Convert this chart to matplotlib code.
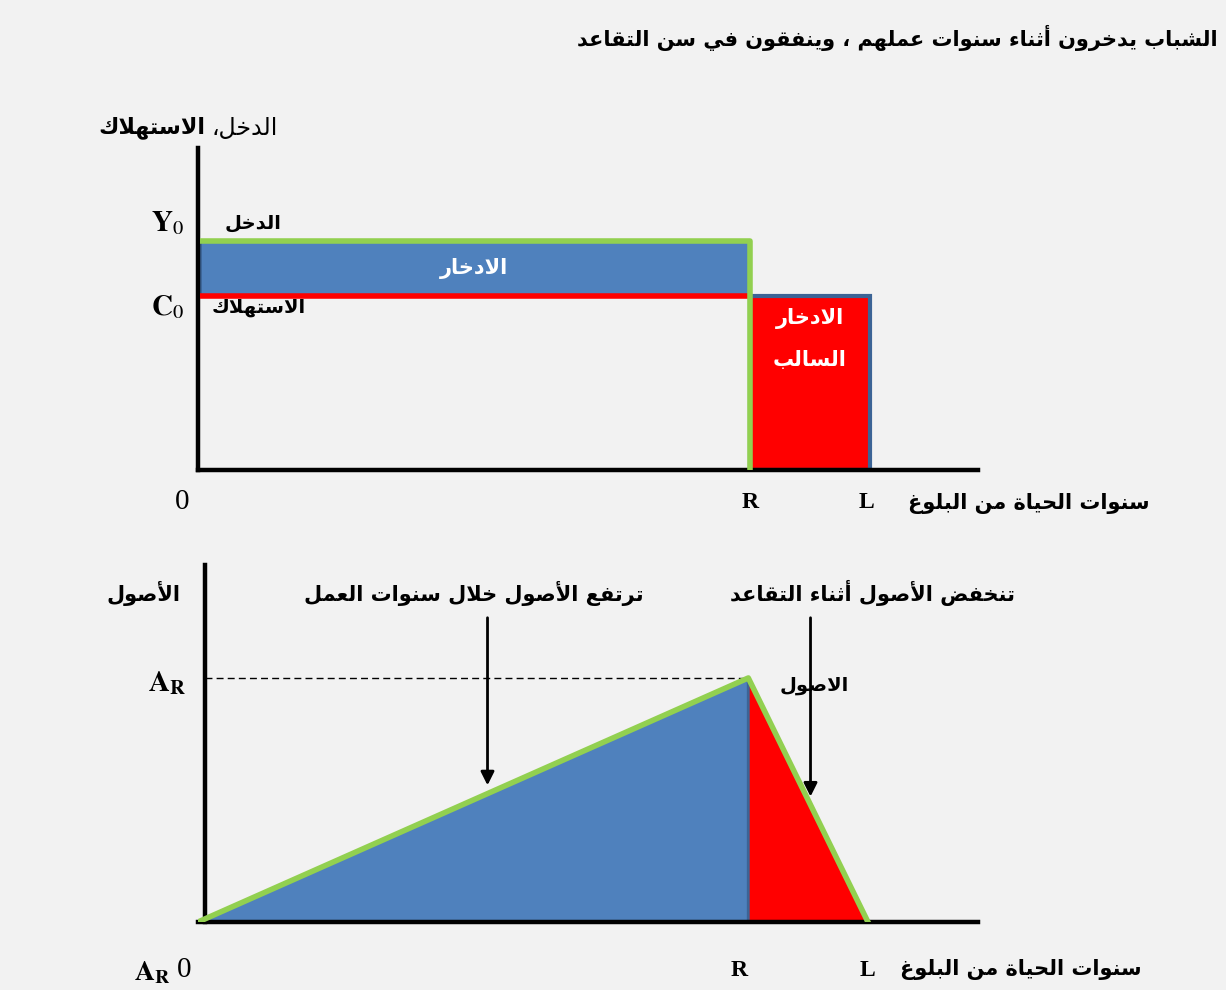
"""
دورة الحياة: الدخل والاستهلاك والأصول
"""
import numpy as np
import matplotlib
matplotlib.use('Agg')
import matplotlib.pyplot as plt
from matplotlib.patches import Rectangle, Polygon
import matplotlib.transforms as mtransforms

plt.rcParams['mathtext.fontset'] = 'stix'

# ---- data ----
R = 46          # سن التقاعد (سنوات من البلوغ)
L = 56          # نهاية الحياة
Y0 = 100        # الدخل
C0 = 76         # الاستهلاك
AR = 1104       # الأصول عند التقاعد
asset_years = [0, R, L]
asset_vals = [0, AR, 0]

title = 'الشباب يدخرون أثناء سنوات عملهم ، وينفقون في سن التقاعد'
xlabel = 'سنوات الحياة من البلوغ'

BLUE = '#4f81bd'
EDGE = '#3c6496'
GREEN = '#92d050'
RED = '#ff0000'
BG = '#f2f2f2'

# ---- تشكيل الحروف العربية (matplotlib لا يقوم بذلك) ----
dual = {'ئ': 0xFE89, 'ب': 0xFE8F, 'ت': 0xFE95, 'ث': 0xFE99, 'ج': 0xFE9D, 'ح': 0xFEA1,
        'خ': 0xFEA5, 'س': 0xFEB1, 'ش': 0xFEB5, 'ص': 0xFEB9, 'ض': 0xFEBD, 'ط': 0xFEC1,
        'ظ': 0xFEC5, 'ع': 0xFEC9, 'غ': 0xFECD, 'ف': 0xFED1, 'ق': 0xFED5, 'ك': 0xFED9,
        'ل': 0xFEDD, 'م': 0xFEE1, 'ن': 0xFEE5, 'ه': 0xFEE9, 'ي': 0xFEF1}
right = {'آ': 0xFE81, 'أ': 0xFE83, 'ؤ': 0xFE85, 'إ': 0xFE87, 'ا': 0xFE8D, 'ة': 0xFE93,
         'د': 0xFEA9, 'ذ': 0xFEAB, 'ر': 0xFEAD, 'ز': 0xFEAF, 'و': 0xFEED, 'ى': 0xFEEF}
lamalef = {'آ': 0xFEF5, 'أ': 0xFEF7, 'إ': 0xFEF9, 'ا': 0xFEFB}


def ar(text):
    units = []
    i = 0
    while i < len(text):
        c = text[i]
        if c == 'ل' and i + 1 < len(text) and text[i + 1] in lamalef:
            units.append(('LA', text[i + 1]))
            i += 2
        else:
            units.append(('C', c))
            i += 1
    out = []
    for k, (kind, c) in enumerate(units):
        prev = units[k - 1] if k > 0 else None
        nxt = units[k + 1] if k + 1 < len(units) else None
        join_prev = prev is not None and prev[0] == 'C' and prev[1] in dual
        if kind == 'LA':
            out.append(chr(lamalef[c] + (1 if join_prev else 0)))
        elif c in dual:
            join_next = nxt is not None and (nxt[0] == 'LA' or nxt[1] in dual or nxt[1] in right)
            form = 3 if (join_prev and join_next) else 2 if join_next else 1 if join_prev else 0
            out.append(chr(dual[c] + form))
        elif c in right:
            out.append(chr(right[c] + (1 if join_prev else 0)))
        elif c == 'ء':
            out.append(chr(0xFE80))
        else:
            out.append(c)
    return ''.join(reversed(out))


W, H = 1226, 990
fig = plt.figure(figsize=(W / 100, H / 100), dpi=100, facecolor=BG)


def px(x, y):
    return x / W, 1 - y / H


AFONT = dict(family='DejaVu Sans', fontweight='bold', color='black')
WFONT = dict(family='DejaVu Sans', fontweight='bold', color='white')
LFONT = dict(family='Liberation Serif', fontweight='bold', color='black')


def setup(ax):
    ax.set_facecolor('none')
    for s in ['top', 'right']:
        ax.spines[s].set_visible(False)
    for s in ['left', 'bottom']:
        ax.spines[s].set_linewidth(3.2)
        ax.spines[s].set_color('black')
    ax.set_xticks([])
    ax.set_yticks([])


# ---- اللوحة العليا: الدخل والاستهلاك ----
ax1 = fig.add_axes([198 / W, (H - 470) / H, (978 - 198) / W, (470 - 148) / H])
setup(ax1)
ax1.set_xlim(0, 65)
ax1.set_ylim(0, 140.6)

ax1.add_patch(Rectangle((0.2, C0), R - 0.2, Y0 - C0, facecolor=BLUE, edgecolor=EDGE, lw=2, zorder=2))
ax1.add_patch(Rectangle((R, 0), L - R, C0, facecolor=RED, edgecolor=EDGE, lw=3, zorder=2))
ax1.plot([0.2, R], [C0, C0], color=RED, lw=4, zorder=3, solid_capstyle='butt')
ax1.plot([0.2, R, R], [Y0, Y0, 0], color=GREEN, lw=4, zorder=4, solid_capstyle='butt')

ax1.text(R / 2, (Y0 + C0) / 2, ar('الادخار'), ha='center', va='center', fontsize=15, **WFONT)
ax1.text((R + L) / 2, 66, ar('الادخار'), ha='center', va='center', fontsize=15, **WFONT)
ax1.text((R + L) / 2, 48, ar('السالب'), ha='center', va='center', fontsize=15, **WFONT)

tr1 = mtransforms.blended_transform_factory(ax1.transAxes, ax1.transData)
ax1.text(-0.018, Y0 + 8, r'$\mathbf{Y}_{\mathrm{0}}$', ha='right', va='center', fontsize=21,
         transform=tr1, color='black')
ax1.text(-0.018, C0 - 5, r'$\mathbf{C}_{\mathrm{0}}$', ha='right', va='center', fontsize=21,
         transform=tr1, color='black')
ax1.text(0.07, Y0 + 8, ar('الدخل'), ha='center', va='center', fontsize=14, transform=tr1, **AFONT)
ax1.text(0.078, C0 - 5, ar('الاستهلاك'), ha='center', va='center', fontsize=14, transform=tr1, **AFONT)

trx1 = mtransforms.blended_transform_factory(ax1.transData, ax1.transAxes)
ax1.text(R, -0.1, 'R', ha='center', va='center', fontsize=17, transform=trx1, **LFONT)
ax1.text(L - 0.3, -0.1, 'L', ha='center', va='center', fontsize=17, transform=trx1, **LFONT)
ax1.text(-1.3, -0.1, '0', ha='center', va='center', fontsize=21, transform=trx1,
         family='Liberation Serif', color='black')

# ---- اللوحة السفلى: الأصول ----
ax2 = fig.add_axes([198 / W, (H - 922) / H, (978 - 198) / W, (922 - 565) / H])
setup(ax2)
ax2.spines['left'].set_position(('outward', -5))
ax2.set_xlim(0, 65.2)
ax2.set_ylim(0, 1615)

ax2.add_patch(Polygon([(asset_years[0], asset_vals[0]), (asset_years[1], asset_vals[1]), (R, 0)],
                      closed=True, facecolor=BLUE, edgecolor=EDGE, lw=2, zorder=2))
ax2.add_patch(Polygon([(asset_years[1], asset_vals[1]), (asset_years[2], asset_vals[2]), (R, 0)],
                      closed=True, facecolor=RED, edgecolor=EDGE, lw=2, zorder=2))
ax2.plot(asset_years, asset_vals, color=GREEN, lw=4, zorder=4)
ax2.plot([0.6, R], [AR, AR], color='black', lw=1, ls=(0, (5, 3)), zorder=1)

# أسهم
for xa in [24.2, 51.2]:
    ax2.annotate('', xy=(xa, np.interp(xa, asset_years, asset_vals) + 25),
                 xytext=(xa, 0.86), xycoords='data', textcoords=('data', 'axes fraction'),
                 arrowprops=dict(arrowstyle='-|>', color='black', lw=2, mutation_scale=20))

tr2 = mtransforms.blended_transform_factory(ax2.transAxes, ax2.transData)
ax2.text(-0.015, AR - 25, r'$\mathbf{A}_{\mathbf{R}}$', ha='right', va='center', fontsize=21,
         transform=tr2, color='black')
ax2.text(0.79, AR - 35, ar('الاصول'), ha='center', va='center', fontsize=14, transform=tr2, **AFONT)

trx2 = mtransforms.blended_transform_factory(ax2.transData, ax2.transAxes)
ax2.text(R - 0.8, -0.135, 'R', ha='center', va='center', fontsize=17, transform=trx2, **LFONT)
ax2.text(L, -0.135, 'L', ha='center', va='center', fontsize=17, transform=trx2, **LFONT)
ax2.text(-1.2, -0.135, '0', ha='center', va='center', fontsize=21, transform=trx2,
         family='Liberation Serif', color='black')
ax2.text(-0.035, -0.14, r'$\mathbf{A}_{\mathbf{R}}$', ha='right', va='center', fontsize=20,
         transform=ax2.transAxes, color='black')

# ---- النصوص ----
fig.text(*px(1218, 38), ar(title), ha='right', va='center', fontsize=15, **AFONT)
fig.text(*px(205, 128), ar('الاستهلاك'), ha='right', va='center', fontsize=16, **AFONT)
fig.text(*px(212, 128), ar('الدخل،'), ha='left', va='center', fontsize=17,
         family='DejaVu Sans', color='black')
fig.text(*px(1150, 503), ar(xlabel), ha='right', va='center', fontsize=15, **AFONT)
fig.text(*px(1142, 970), ar(xlabel), ha='right', va='center', fontsize=15, **AFONT)
fig.text(*px(180, 593), ar('الأصول'), ha='right', va='center', fontsize=15, **AFONT)
fig.text(*px(643, 593), ar('ترتفع الأصول خلال سنوات العمل'), ha='right', va='center', fontsize=15, **AFONT)
fig.text(*px(1015, 593), ar('تنخفض الأصول أثناء التقاعد'), ha='right', va='center', fontsize=15, **AFONT)

fig.savefig('out.png', dpi=100, facecolor=BG)
